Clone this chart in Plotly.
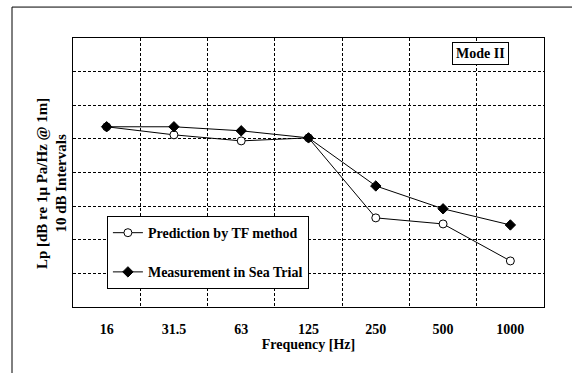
import plotly.graph_objects as go

freqs = ["16", "31.5", "63", "125", "250", "500", "1000"]
prediction = [53.6, 51.2, 49.4, 50.3, 26.5, 24.7, 13.7]
measurement = [53.6, 53.6, 52.4, 50.3, 36.0, 29.2, 24.4]

FONT = "Liberation Serif"

fig = go.Figure()
fig.add_trace(go.Scatter(
    x=freqs, y=prediction, mode="lines+markers",
    name="<b>Prediction by TF method</b>", legendgroup="a",
    line=dict(color="black", width=1),
    marker=dict(symbol="circle", size=8, color="white", line=dict(color="black", width=1)),
))
fig.add_trace(go.Scatter(
    x=freqs, y=measurement, mode="lines+markers",
    name="<b>Measurement in Sea Trial</b>", legendgroup="b",
    line=dict(color="black", width=1),
    marker=dict(symbol="diamond", size=8, color="black", line=dict(color="black", width=1)),
))

fig.update_layout(
    width=572, height=373,
    margin=dict(l=73, r=28, t=38, b=66),
    paper_bgcolor="white", plot_bgcolor="white",
    font=dict(family=FONT, size=14, color="black"),
    showlegend=True,
    legend=dict(
        x=0.072, y=0.338, xanchor="left", yanchor="top",
        bordercolor="black", borderwidth=1, bgcolor="white",
        traceorder="grouped", tracegroupgap=18,
        font=dict(family=FONT, size=14, color="black"),
        itemwidth=30,
    ),
    xaxis=dict(
        type="category", range=[-0.5, 6.5], tickson="boundaries",
        showgrid=True, gridcolor="black", gridwidth=1, griddash="3px,2px",
        showline=True, linecolor="black", linewidth=1, mirror=True,
        ticks="", ticklabelstandoff=9,
        tickfont=dict(family=FONT, size=14, color="black"),
        tickprefix="<b>", ticksuffix="</b>",
        title=dict(text="<b>Frequency [Hz]</b>", standoff=0,
                   font=dict(family=FONT, size=14, color="black")),
        zeroline=False,
    ),
    yaxis=dict(
        range=[0, 80], dtick=10, showticklabels=False,
        showgrid=True, gridcolor="black", gridwidth=1, griddash="3px,2px",
        showline=True, linecolor="black", linewidth=1, mirror=True,
        ticks="", zeroline=False,
    ),
)

fig.add_annotation(
    xref="paper", yref="paper", x=-0.045, y=0.46, xanchor="center", yanchor="middle",
    text="<b>Lp [dB re 1μ Pa/Hz @ 1m]</b><br><b>10 dB Intervals</b>",
    textangle=-90, showarrow=False, font=dict(family=FONT, size=15, color="black"),
)

fig.add_annotation(
    xref="paper", yref="paper", x=0.926, y=0.985, xanchor="right", yanchor="top",
    text="<b>Mode II</b>", showarrow=False,
    bordercolor="black", borderwidth=1, borderpad=3, bgcolor="white",
    font=dict(family=FONT, size=14, color="black"),
)

# outer frame (left and top edges)
fig.add_shape(type="line", xref="paper", yref="paper", x0=-0.1295, x1=-0.1295, y0=1.115, y1=-0.25,
              line=dict(color="black", width=1))
fig.add_shape(type="line", xref="paper", yref="paper", x0=-0.1295, x1=1.06, y0=1.115, y1=1.115,
              line=dict(color="black", width=1))

fig.write_html("out.html")
